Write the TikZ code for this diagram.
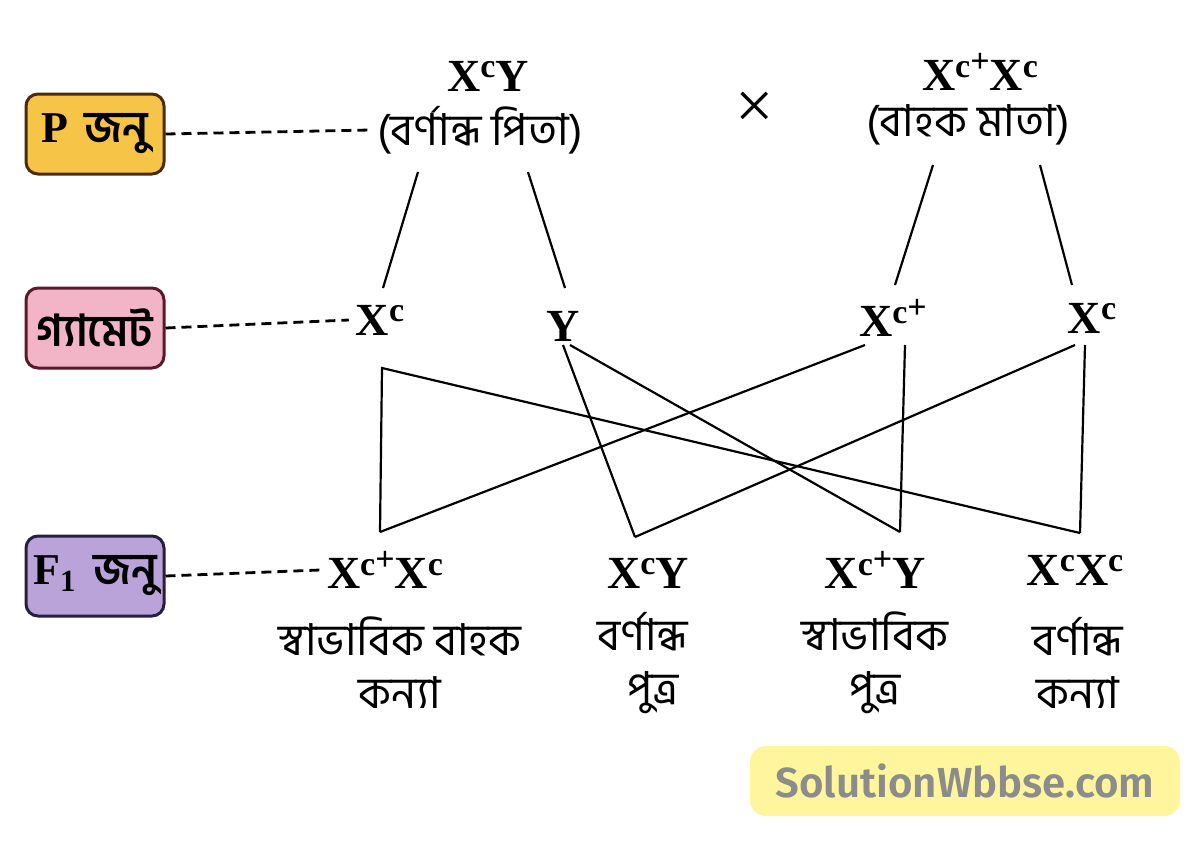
\documentclass[tikz,border=0pt]{standalone}
\usepackage{fontspec}
\newfontfamily\bn[Script=Bengali]{Hind Siliguri}
\newfontfamily\lat{Liberation Serif}
\newfontfamily\wm{Fira Sans SemiBold}
\usetikzlibrary{positioning}
\definecolor{pgold}{HTML}{F6C447}
\definecolor{gpink}{HTML}{F1B5C7}
\definecolor{fviolet}{HTML}{B9A3D8}
\definecolor{pline}{HTML}{4A2A10}
\definecolor{gline}{HTML}{5A1A2A}
\definecolor{fline}{HTML}{252040}
\definecolor{wmyellow}{HTML}{FFF59C}
\newcommand{\cc}{\raisebox{.62ex}{\fontsize{17}{17}\selectfont c}}
\newcommand{\cp}{\raisebox{.62ex}{\fontsize{17}{17}\selectfont c\raisebox{.35ex}{+}}}

\begin{document}
\begin{tikzpicture}[x=0.5pt,y=-0.5pt]
		\tikzset{genbox/.style={draw=#1line, fill=#1, rounded corners=6pt, line width=1.5pt,
				minimum width=69pt, minimum height=40pt, font=\bfseries\fontsize{22}{24}\selectfont}}
		\tikzset{geno/.style={font=\lat\bfseries\fontsize{23}{25}\selectfont}}
		\tikzset{bnlab/.style={font=\bn\fontsize{22}{26.5}\selectfont, align=center}}
		\tikzset{dash line/.style={line width=1.4pt, dash pattern=on 5pt off 3pt}}
		\tikzset{cross/.style={line width=1.1pt}}
		\colorlet{pgoldline}{pline}
		\colorlet{gpinkline}{gline}
		\colorlet{fvioletline}{fline}
		\useasboundingbox (0,0) rectangle (1200,842);
		%generation boxes
		\node[genbox=pgold] (pbox) at (95,134) {{\lat P} \bn জনু};
		\node[genbox=gpink] (gbox) at (95,328) {\bn গ্যামেট};
		\node[genbox=fviolet] (fbox) at (95,576) {{\lat F\textsubscript{1}} \bn জনু};
		%parents
		\node[geno] (father) at (488,76) {X\cc Y};
		\node[bnlab] (fatherl) at (480,130) {(বর্ণান্ধ পিতা)};
		\node[font=\lat\fontsize{34}{34}\selectfont] (times) at (755,110) {×};
		\node[geno] (mother) at (980,72) {X\cp X\cc};
		\node[bnlab] (motherl) at (968,125) {(বাহক মাতা)};
		%gametes
		\node[geno] (g1) at (380,320) {X\cc};
		\node[geno] (g2) at (563,326) {Y};
		\node[geno] (g3) at (893,318) {X\cp};
		\node[geno] (g4) at (1092,318) {X\cc};
		%offspring
		\node[geno] (f1) at (385,570) {X\cp X\cc};
		\node[geno] (f2) at (648,573) {X\cc Y};
		\node[geno] (f3) at (875,570) {X\cp Y};
		\node[geno] (f4) at (1075,570) {X\cc X\cc};
		\node[bnlab] (f1l) at (400,663) {স্বাভাবিক বাহক\\কন্যা};
		\node[bnlab] (f2l) at (643,663) {বর্ণান্ধ\\\ \ পুত্র};
		\node[bnlab] (f3l) at (875,663) {স্বাভাবিক\\পুত্র};
		\node[bnlab] (f4l) at (1078,663) {বর্ণান্ধ\\কন্যা};
		%dashed links
		\draw[dash line] (pbox.east) -- (fatherl.west);
		\draw[dash line] (gbox.east) -- (g1.west);
		\draw[dash line] (fbox.east) -- (f1.west);
		%line ends
		\coordinate (fa) at (418,172); \coordinate (fb) at (528,172);
		\coordinate (ma) at (933,165); \coordinate (mb) at (1040,165);
		\coordinate (g1t) at (383,288); \coordinate (g2t) at (565,288);
		\coordinate (g3t) at (895,285); \coordinate (g4t) at (1072,285);
		\coordinate (g1v) at (382,368);
		\coordinate (g2a) at (563,345); \coordinate (g2b) at (570,345);
		\coordinate (g3a) at (865,345); \coordinate (g3b) at (905,345);
		\coordinate (g4a) at (1075,345); \coordinate (g4b) at (1085,345);
		\coordinate (f1t) at (380,532); \coordinate (f2t) at (635,537);
		\coordinate (f3t) at (900,532); \coordinate (f4t) at (1080,533);
		%parent to gamete
		\draw[cross] (fa) -- (g1t);
		\draw[cross] (fb) -- (g2t);
		\draw[cross] (ma) -- (g3t);
		\draw[cross] (mb) -- (g4t);
		%gamete to offspring
		\draw[cross] (f1t) -- (g1v) -- (f4t);
		\draw[cross] (g2a) -- (f2t);
		\draw[cross] (g2b) -- (f3t);
		\draw[cross] (g3a) -- (f1t);
		\draw[cross] (g3b) -- (f3t);
		\draw[cross] (g4a) -- (f2t);
		\draw[cross] (g4b) -- (f4t);
		%watermark
		\node[fill=wmyellow, rounded corners=8pt, minimum width=215pt, minimum height=35pt,
			text=black!45, font=\wm\fontsize{21}{23}\selectfont] (mark) at (965,781) {SolutionWbbse.com};
\end{tikzpicture}
\end{document}
